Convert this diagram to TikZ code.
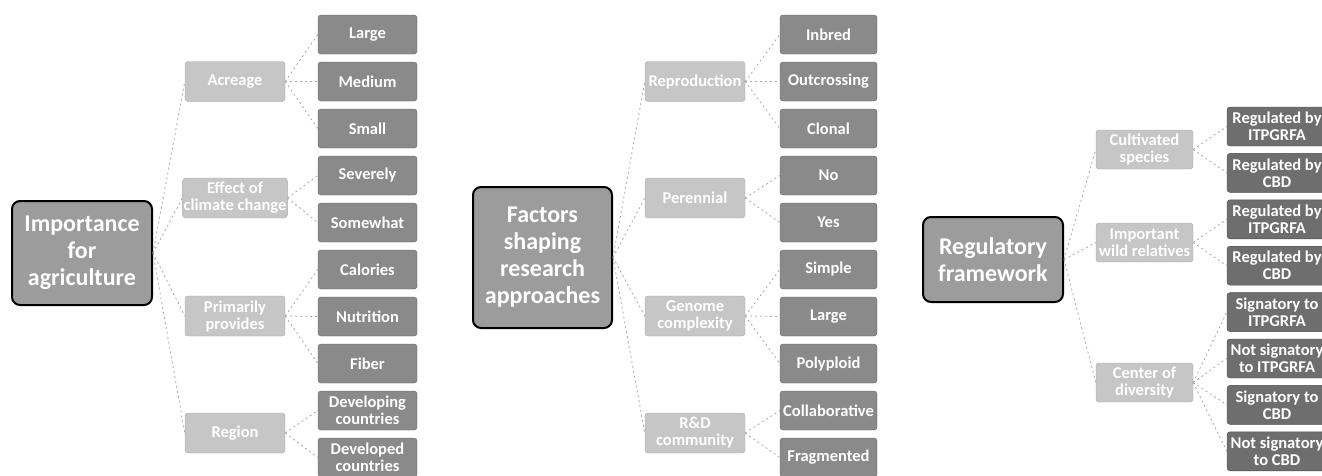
\documentclass[tikz,border=0pt]{standalone}
\usepackage{fontspec}
\setmainfont{Carlito}
\usepackage{tikz}
\usetikzlibrary{positioning,calc}
\definecolor{rootbg}{HTML}{9C9C9C}
\definecolor{midbg}{HTML}{C6C6C6}
\definecolor{leafbg}{HTML}{8A8A8A}
\definecolor{leafdk}{HTML}{6E6E6E}
\definecolor{edge}{HTML}{A8A8A8}
\tikzset{
  rootbox/.style={rectangle,rounded corners=8pt,draw=black,line width=2pt,fill=rootbg,
    text=white,align=center,inner sep=2pt,font=\fontsize{24}{27}\selectfont\bfseries},
  midbox/.style={rectangle,rounded corners=3pt,draw=midbg!85!black,fill=midbg,
    text=white,align=center,inner sep=1pt,font=\fontsize{16.5}{17}\selectfont\bfseries,
    minimum width=100pt,minimum height=40pt},
  leafbox/.style={rectangle,rounded corners=3pt,draw=leafbg!70!black,fill=leafbg,
    text=white,align=center,inner sep=1pt,font=\fontsize{16.5}{17}\selectfont\bfseries,
    minimum width=99pt,minimum height=39pt},
  leafd/.style={leafbox,fill=leafdk,draw=leafdk!70!black,minimum width=100pt},
  lnk/.style={draw=edge,line width=0.8pt,dash pattern=on 2pt off 3pt},
}

\begin{document}
\begin{tikzpicture}[x=1pt,y=-1pt]
  \useasboundingbox (0,0) rectangle (1322,475);
  % importance for agriculture
  \node[rootbox,minimum width=140pt,minimum height=104pt] (imp) at (82,253) {Importance\\for\\agriculture};
  \node[midbox] (acre) at (235,81.5) {Acreage};
  \node[midbox] (clim) at (235,198) {Effect of\\climate change};
  \node[midbox] (prov) at (235,316) {Primarily\\provides};
  \node[midbox] (regn) at (235,433) {Region};
  \foreach \t [count=\i from 0] in {Large,Medium,Small,Severely,Somewhat,Calories,Nutrition,Fiber,
      {Developing\\countries},{Developed\\countries}} {
    \node[leafbox] (a\i) at (367.5,34.5+47*\i) {\t};
  }
  \foreach \m in {acre,clim,prov,regn} \draw[lnk] (imp.east) -- (\m.west);
  \foreach \i in {0,1,2} \draw[lnk] (acre.east) -- (a\i.west);
  \foreach \i in {3,4} \draw[lnk] (clim.east) -- (a\i.west);
  \foreach \i in {5,6,7} \draw[lnk] (prov.east) -- (a\i.west);
  \foreach \i in {8,9} \draw[lnk] (regn.east) -- (a\i.west);

  % factors shaping research approaches
  \node[rootbox,minimum width=139pt,minimum height=141pt] (fac) at (542.5,257.5) {Factors\\shaping\\research\\approaches};
  \node[midbox] (repr) at (695,81.5) {Reproduction};
  \node[midbox] (pere) at (695,198) {Perennial};
  \node[midbox] (geno) at (695,316) {Genome\\complexity};
  \node[midbox] (rdc) at (695,433) {R\&D\\community};
  \foreach \t [count=\i from 0] in {Inbred,Outcrossing,Clonal,No,Yes,Simple,Large,Polyploid,
      Collaborative,Fragmented} {
    \node[leafbox,minimum width=97pt] (b\i) at (828.5,34.5+47*\i) {\t};
  }
  \foreach \m in {repr,pere,geno,rdc} \draw[lnk] (fac.east) -- (\m.west);
  \foreach \i in {0,1,2} \draw[lnk] (repr.east) -- (b\i.west);
  \foreach \i in {3,4} \draw[lnk] (pere.east) -- (b\i.west);
  \foreach \i in {5,6,7} \draw[lnk] (geno.east) -- (b\i.west);
  \foreach \i in {8,9} \draw[lnk] (rdc.east) -- (b\i.west);

  % regulatory framework
  \node[rootbox,minimum width=140pt,minimum height=85pt] (reg) at (993,259.5) {Regulatory\\framework};
  \node[midbox,minimum width=97pt,minimum height=39pt] (cult) at (1144.5,149.5) {Cultivated\\species};
  \node[midbox,minimum width=97pt,minimum height=39pt] (wild) at (1144.5,242.5) {Important\\wild relatives};
  \node[midbox,minimum width=97pt,minimum height=39pt] (cent) at (1144.5,382.5) {Center of\\diversity};
  \foreach \t [count=\i from 0] in {{Regulated by\\ITPGRFA},{Regulated by\\CBD},{Regulated by\\ITPGRFA},
      {Regulated by\\CBD},{Signatory to\\ITPGRFA},{Not signatory\\to ITPGRFA},{Signatory to\\CBD},
      {Not signatory\\to CBD}} {
    \node[leafd] (c\i) at (1277,126.5+46.4*\i) {\t};
  }
  \foreach \m in {cult,wild,cent} \draw[lnk] (reg.east) -- (\m.west);
  \foreach \i in {0,1} \draw[lnk] (cult.east) -- (c\i.west);
  \foreach \i in {2,3} \draw[lnk] (wild.east) -- (c\i.west);
  \foreach \i in {4,5,6,7} \draw[lnk] (cent.east) -- (c\i.west);
\end{tikzpicture}
\end{document}
